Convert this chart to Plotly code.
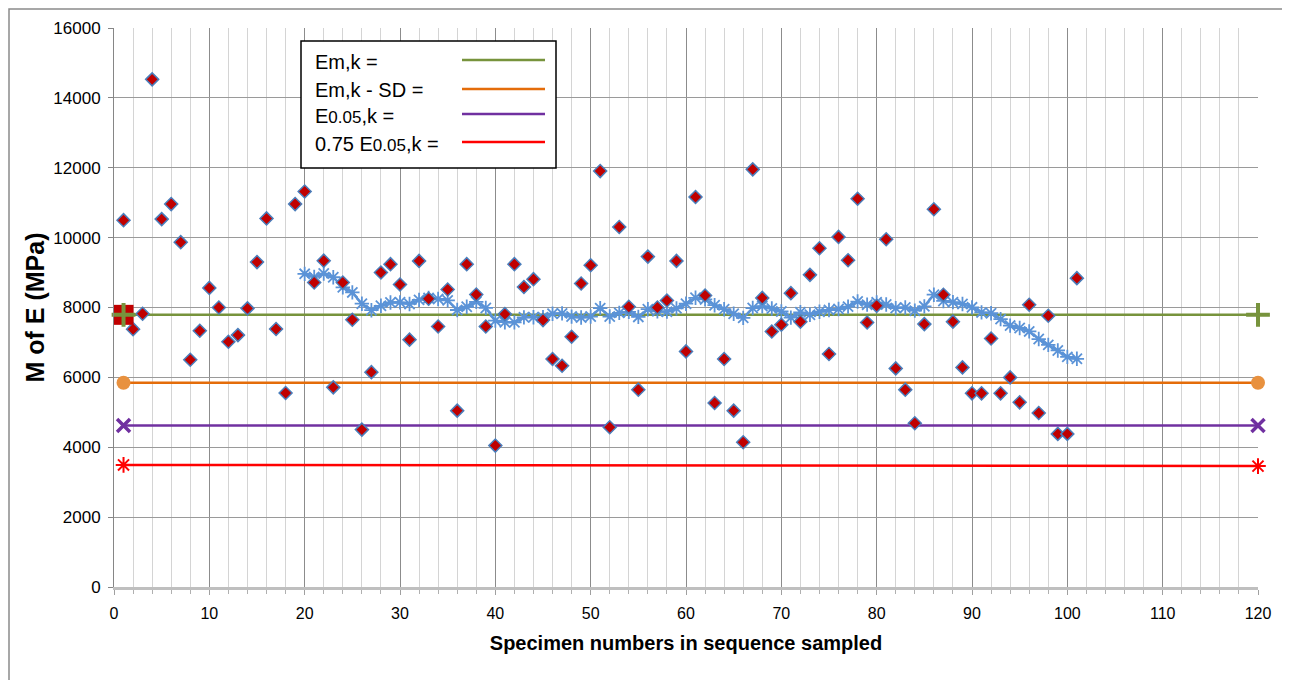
import plotly.graph_objects as go

# ---------------- data ----------------
specimen = list(range(1, 102))
moe = [10500, 7380, 7820, 14530, 10530, 10960, 9870, 6505, 7334, 8560,
       8000, 7020, 7210, 7975, 9300, 10550, 7383, 5554, 10960, 11320,
       8714, 9340, 5714, 8714, 7648, 4505, 6150, 9000, 9240, 8660,
       7080, 9334, 8250, 7457, 8515, 5048, 9240, 8370, 7457, 4048,
       7811, 9240, 8585, 8811, 7640, 6525, 6334, 7163, 8686, 9211,
       11905, 4571, 10305, 8020, 5648, 9457, 8000, 8200, 9334, 6743,
       11162, 8344, 5268, 6525, 5048, 4143, 11954, 8275, 7314, 7505,
       8411, 7591, 8934, 9697, 6668, 10020, 9354, 11114, 7571, 8048,
       9954, 6257, 5648, 4686, 7525, 10811, 8363, 7595, 6286, 5543,
       5543, 7114, 5543, 6000, 5286, 8077, 4982, 7763, 4382, 4382, 8840]

ma_specimen = list(range(20, 102))
moving_avg = [8963, 8874, 8972, 8866, 8576, 8432, 8109, 7923, 8048, 8143,
              8148, 8102, 8218, 8270, 8244, 8204, 7929, 8022, 8163, 7988,
              7624, 7579, 7574, 7718, 7722, 7722, 7823, 7832, 7740, 7713,
              7740, 7982, 7743, 7846, 7874, 7731, 7951, 7889, 7881, 7975,
              8109, 8277, 8232, 8066, 7952, 7822, 7703, 7984, 8040, 7971,
              7886, 7711, 7862, 7794, 7878, 7929, 7957, 8025, 8170, 8082,
              8147, 8087, 7983, 8002, 7910, 8033, 8367, 8187, 8153, 8102,
              8004, 7860, 7837, 7667, 7482, 7413, 7316, 7097, 6930, 6770,
              6587, 6531]

line_ends = [1, 120]
em_k = [7790, 7790]
em_k_sd = [5845, 5845]
e005_k = [4620, 4620]
e075 = [3495, 3460]

x_ticks = list(range(0, 121, 10))
y_ticks = list(range(0, 16001, 2000))

legend_labels = ["Em,k =", "Em,k - SD =",
                 "E<span style='font-size:17px'>0.05</span>,k =",
                 "0.75 E<span style='font-size:17px'>0.05</span>,k ="]

GREEN = "#77933C"
ORANGE = "#E46C0A"
PURPLE = "#7030A0"
RED = "#FF0000"
BLUE = "#5B93D7"
FONT = "Liberation Sans, Arial, sans-serif"

fig = go.Figure()

# reference lines
fig.add_trace(go.Scatter(x=line_ends, y=em_k, mode="lines", cliponaxis=False,
                         line=dict(color=GREEN, width=2.5), hoverinfo="skip"))
fig.add_trace(go.Scatter(x=line_ends, y=em_k_sd, mode="lines+markers", cliponaxis=False,
                         line=dict(color=ORANGE, width=2.5),
                         marker=dict(symbol="circle", size=14, color="#E8913F")))
fig.add_trace(go.Scatter(x=line_ends, y=e005_k, mode="lines+markers", cliponaxis=False,
                         line=dict(color=PURPLE, width=2.5),
                         marker=dict(symbol="x-thin-open", size=13, color=PURPLE,
                                     line=dict(color=PURPLE, width=3.5))))
fig.add_trace(go.Scatter(x=line_ends, y=e075, mode="lines+markers", cliponaxis=False,
                         line=dict(color=RED, width=2.5),
                         marker=dict(symbol="asterisk-open", size=13, color=RED,
                                     line=dict(color=RED, width=2))))

# moving average
fig.add_trace(go.Scatter(x=ma_specimen, y=moving_avg, mode="lines+markers",
                         line=dict(color=BLUE, width=2.5),
                         marker=dict(symbol="asterisk-open", size=12, color=BLUE,
                                     line=dict(color=BLUE, width=1.8))))

# specimen values
fig.add_trace(go.Scatter(x=specimen, y=moe, mode="markers",
                         marker=dict(symbol="diamond", size=10, color="#C00000",
                                     line=dict(color="#4A7EBB", width=1.5))))

# start marker of Em,k (red square with green plus)
fig.add_trace(go.Scatter(x=[line_ends[0]], y=[em_k[0]], mode="markers", cliponaxis=False,
                         marker=dict(symbol="square", size=20, color="#C00000")))
fig.add_trace(go.Scatter(x=line_ends, y=em_k, mode="markers", cliponaxis=False,
                         marker=dict(symbol="cross-thin-open", size=17, color=GREEN,
                                     line=dict(color=GREEN, width=4))))

# ---------------- layout ----------------
# the page adds an 8px body margin; positions below are page pixels
OFF = 8
W, H = 1290 - OFF, 680 - OFF
L, R, T, B = 114 - OFF, 1290 - 1258, 28 - OFF, 680 - 587
pw, ph = W - L - R, H - T - B


def px_x(p):
    return (p - OFF - L) / pw


def px_y(p):
    return (H - B - (p - OFF)) / ph


shapes = [
    # outer chart border
    dict(type="rect", xref="paper", yref="paper",
         x0=px_x(9), x1=px_x(1287), y0=px_y(690), y1=px_y(9),
         line=dict(color="#8A8A8A", width=1.5), fillcolor="rgba(0,0,0,0)", layer="below"),
    # legend box
    dict(type="rect", xref="paper", yref="paper",
         x0=px_x(301), x1=px_x(556), y0=px_y(168), y1=px_y(41),
         line=dict(color="black", width=1.5), fillcolor="white", layer="above"),
]
legend_colors = [GREEN, ORANGE, PURPLE, RED]
legend_rows = [60, 89, 114, 142]
text_rows = [62, 90, 116, 144]
annotations = []
for lab, col, ly, ty in zip(legend_labels, legend_colors, legend_rows, text_rows):
    shapes.append(dict(type="line", xref="paper", yref="paper",
                       x0=px_x(462), x1=px_x(545), y0=px_y(ly), y1=px_y(ly),
                       line=dict(color=col, width=2.5), layer="above"))
    annotations.append(dict(text=lab, xref="paper", yref="paper",
                            x=px_x(313), y=px_y(ty), xanchor="left", yanchor="middle",
                            showarrow=False, font=dict(family=FONT, size=20, color="black")))

fig.update_layout(
    width=W, height=H,
    margin=dict(l=L, r=R, t=T, b=B, autoexpand=False),
    paper_bgcolor="white", plot_bgcolor="white",
    showlegend=False,
    font=dict(family=FONT, color="black"),
    shapes=shapes, annotations=annotations,
    xaxis=dict(range=[0, 120], tickvals=x_ticks, ticktext=[str(v) for v in x_ticks],
               showgrid=True, gridcolor="#8C8C8C", gridwidth=1,
               showline=True, linecolor="#BFBFBF", linewidth=2.5,
               ticks="outside", ticklen=5, tickcolor="#A0A0A0",
               ticklabelstandoff=5,
               tickfont=dict(family=FONT, size=16, color="black"),
               minor=dict(dtick=2, showgrid=True, gridcolor="#D4D4D4", gridwidth=1,
                          ticks="outside", ticklen=4, tickcolor="#B0B0B0"),
               zeroline=False, automargin=False,
               title=dict(text="<b>Specimen numbers in sequence sampled</b>",
                          font=dict(family=FONT, size=20, color="black"), standoff=16)),
    yaxis=dict(range=[0, 16000], tickvals=y_ticks, ticktext=[str(v) for v in y_ticks],
               showgrid=True, gridcolor="#9A9A9A", gridwidth=1.2,
               showline=True, linecolor="#868686", linewidth=1,
               ticks="outside", ticklen=5, tickcolor="#868686",
               ticklabelstandoff=4,
               tickfont=dict(family=FONT, size=17, color="black"),
               zeroline=False, automargin=False,
               title=dict(text="<b>M of E (MPa)</b>",
                          font=dict(family=FONT, size=25, color="black"), standoff=1)),
)

fig.write_html("out.html")
